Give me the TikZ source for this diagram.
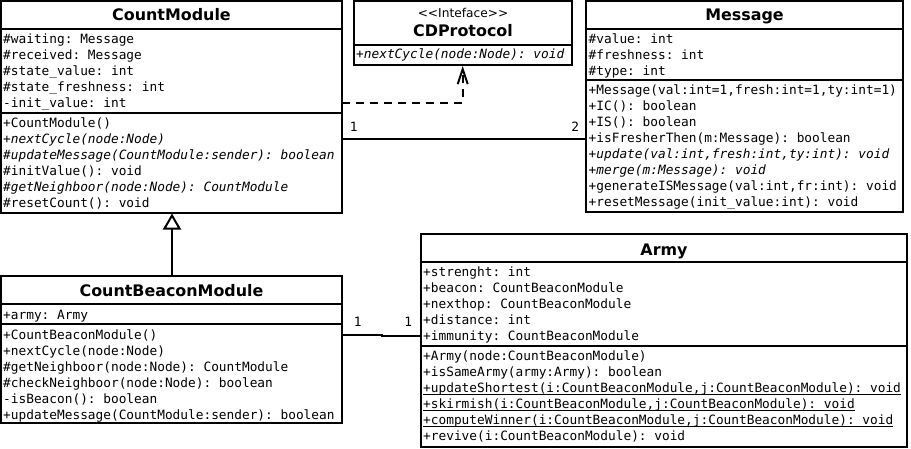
\documentclass[tikz,border=0pt]{standalone}
\usepackage{fontspec}
\setmainfont{DejaVu Sans}
\setsansfont{DejaVu Sans}
\setmonofont{DejaVu Sans Mono}
\usetikzlibrary{arrows.meta}
\newcommand\ulx[1]{\setbox0\hbox{#1}\rlap{\rule[-2.8pt]{\wd0}{1pt}}\box0}
\tikzset{
  box/.style={draw, line width=2pt, inner sep=0pt, outer sep=0pt, anchor=north west},
  rulel/.style={line width=2pt},
  conn/.style={line width=2pt},
  mem/.style={anchor=base west, inner sep=0pt, font=\ttfamily\fontsize{12.8}{16}\selectfont},
  lbl/.style={anchor=base, inner sep=0pt, font=\ttfamily\fontsize{12.8}{16}\selectfont},
  ttl/.style={anchor=base, inner sep=0pt, font=\sffamily\bfseries\fontsize{15.9}{18}\selectfont},
  stereo/.style={anchor=base, inner sep=0pt, font=\sffamily\fontsize{12.2}{14}\selectfont},
}
\begin{document}
\begin{tikzpicture}[x=1pt,y=-1pt]
\useasboundingbox (0,0) rectangle (911,448);

% ---------- CountModule ----------
\node[box, minimum width=341pt, minimum height=211.5pt] (cm) at (1,1) {};
\draw[rulel] (cm.west |- 0,28.5) -- (cm.east |- 0,28.5);
\draw[rulel] (cm.west |- 0,113) -- (cm.east |- 0,113);
\node[ttl] (cmt) at (cm.north |- 0,20.7) {CountModule};
\foreach \t [count=\i from 0] in {\#waiting: Message, \#received: Message, \#state\_value: int, \#state\_freshness: int, -init\_value: int}
  \node[mem] (cma\i) at (3,43.5+16*\i) {\t};
\foreach \t [count=\i from 0] in {+CountModule(), {\itshape +nextCycle(node:Node)}, {\itshape \#updateMessage(CountModule:sender): boolean}, \#initValue(): void, {\itshape \#getNeighboor(node:Node): CountModule}, \#resetCount(): void}
  \node[mem] (cmm\i) at (3,127.5+16*\i) {\t};

% ---------- CDProtocol ----------
\node[box, minimum width=218pt, minimum height=63.5pt] (cdp) at (354,1) {};
\draw[rulel] (cdp.west |- 0,45) -- (cdp.east |- 0,45);
\node[stereo] (cdps) at (cdp.north |- 0,17.3) {{<}{<}Inteface{>}{>}};
\node[ttl] (cdpt) at (cdp.north |- 0,36) {CDProtocol};
\node[mem] (cdpm) at (356,58.5) {\itshape +nextCycle(node:Node): void};

% ---------- Message ----------
\node[box, minimum width=317pt, minimum height=211pt] (msg) at (586,1) {};
\draw[rulel] (msg.west |- 0,28.5) -- (msg.east |- 0,28.5);
\draw[rulel] (msg.west |- 0,80) -- (msg.east |- 0,80);
\node[ttl] (msgt) at (msg.north |- 0,20.7) {Message};
\foreach \t [count=\i from 0] in {\#value: int, \#freshness: int, \#type: int}
  \node[mem] (msga\i) at (588.5,43.5+16*\i) {\t};
\foreach \t [count=\i from 0] in {{+Message(val:int=1,fresh:int=1,ty:int=1)}, +IC(): boolean, +IS(): boolean, +isFresherThen(m:Message): boolean, {\itshape +update(val:int,fresh:int,ty:int): void}, {\itshape +merge(m:Message): void}, {+generateISMessage(val:int,fr:int): void}, +resetMessage(init\_value:int): void}
  \node[mem] (msgm\i) at (588.5,94.5+16*\i) {\t};

% ---------- CountBeaconModule ----------
\node[box, minimum width=341pt, minimum height=147.3pt] (cbm) at (1,276) {};
\draw[rulel] (cbm.west |- 0,304) -- (cbm.east |- 0,304);
\draw[rulel] (cbm.west |- 0,324) -- (cbm.east |- 0,324);
\node[ttl] (cbmt) at (cbm.north |- 0,296.5) {CountBeaconModule};
\node[mem] (cbma0) at (3,319.5) {+army: Army};
\foreach \t [count=\i from 0] in {+CountBeaconModule(), +nextCycle(node:Node), \#getNeighboor(node:Node): CountModule, \#checkNeighboor(node:Node): boolean, -isBeacon(): boolean, +updateMessage(CountModule:sender): boolean}
  \node[mem] (cbmm\i) at (3,339+16*\i) {\t};

% ---------- Army ----------
\node[box, minimum width=486pt, minimum height=213.5pt] (army) at (421,233.5) {};
\draw[rulel] (army.west |- 0,262) -- (army.east |- 0,262);
\draw[rulel] (army.west |- 0,346) -- (army.east |- 0,346);
\node[ttl] (armyt) at (army.north |- 0,255) {Army};
\foreach \t [count=\i from 0] in {+strenght: int, +beacon: CountBeaconModule, +nexthop: CountBeaconModule, +distance: int, +immunity: CountBeaconModule}
  \node[mem] (armya\i) at (423,276.5+16*\i) {\t};
\foreach \t [count=\i from 0] in {+Army(node:CountBeaconModule), +isSameArmy(army:Army): boolean, {\ulx{+updateShortest(i:CountBeaconModule,j:CountBeaconModule): void}}, {\ulx{+skirmish(i:CountBeaconModule,j:CountBeaconModule): void}}, {\ulx{+computeWinner(i:CountBeaconModule,j:CountBeaconModule): void}}, +revive(i:CountBeaconModule): void}
  \node[mem] (armym\i) at (423,360+16*\i) {\t};

% ---------- connectors ----------
% realization CountModule -> CDProtocol
\draw[conn, dash pattern=on 8pt off 6pt, -{Straight Barb[length=15pt, width=10pt]}]
  (cm.east |- 0,102.7) -| ([yshift=-1.5pt]cdp.south -| 462.7,0);
% generalization CountBeaconModule -> CountModule
\draw[conn, -{Triangle[open, length=16pt, width=18pt]}]
  (cbm.north -| 172,0) -- ([yshift=-1pt]cm.south -| 172,0);
% association CountModule -- Message
\draw[conn] (cm.east |- 0,139) -- (msg.west |- 0,139);
\node[lbl] (lcm) at (353.8,131) {1};
\node[lbl] (lmsg) at (575.3,131) {2};
% association CountBeaconModule -- Army
\coordinate (jog) at (381.7,334.7);
\draw[conn] (cbm.east |- jog) -- (jog) -- ++(0,1) -- (army.west |- 0,335.7);
\node[lbl] (lcbm) at (357.7,326) {1};
\node[lbl] (larmy) at (408.3,326) {1};
\end{tikzpicture}
\end{document}
